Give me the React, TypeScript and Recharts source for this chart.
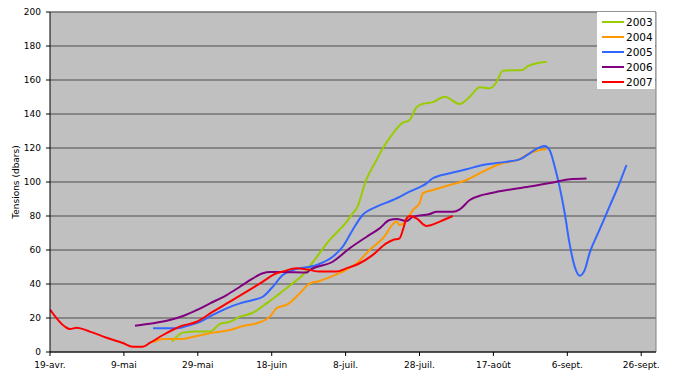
import * as React from 'react';
import {
  LineChart,
  Line,
  XAxis,
  YAxis,
  CartesianGrid,
  Legend,
  ReferenceLine
} from 'recharts';

// days counted from 19-avr.
const xTicks = [0, 20, 40, 60, 80, 100, 120, 140, 160];
const xLabels = ['19-avr.', '9-mai', '29-mai', '18-juin', '8-juil.', '28-juil.', '17-août', '6-sept.', '26-sept.'];
const yTicks = [0, 20, 40, 60, 80, 100, 120, 140, 160, 180, 200];

const days2003 = [33, 36, 39.7, 43.3, 46, 48.7, 51.4, 54.9, 58.6, 62.2, 65.7, 68.4, 72.2, 75.7, 80.3, 81.9, 83, 85.7, 87.9, 90, 92.8, 95.2, 97.3, 99.2, 100.9, 103.6, 106.8, 110.9, 113.6, 116.3, 119, 120.9, 122.5, 127.9, 129.3, 134.4];
const tension2003 = [6.1, 11.4, 12, 12, 16.5, 17.8, 20.8, 23.1, 28.6, 34.5, 40.4, 45.3, 56, 65.9, 76.7, 81.6, 84.5, 102, 111, 119.5, 128.6, 134.5, 136.5, 144, 146, 147, 150.2, 145.9, 150.2, 155.7, 155.1, 159, 165.5, 165.9, 168.2, 170.8];

const days2004 = [27.9, 30.6, 35.2, 39.7, 44.1, 48.7, 52.2, 55.9, 59.5, 61.3, 64.4, 67.6, 70.3, 73, 76.5, 79.2, 83, 86.5, 90.1, 93.8, 94.6, 96.5, 98.2, 100, 100.9, 103.6, 108.2, 112.7, 117.1, 121.7, 127.1, 129.8, 134.4];
const tension2004 = [5.7, 7.6, 7.6, 9.4, 11.4, 12.9, 15.3, 16.9, 20.8, 25.7, 28.2, 34.5, 40.4, 41.8, 44.7, 47.3, 52.2, 60, 66.9, 76.7, 74.7, 77.6, 83.5, 87.5, 93.3, 95.3, 98.2, 101.2, 106.1, 110.6, 113.5, 116.9, 119.4];

const days2005 = [27.9, 34.3, 37.9, 40.6, 44.1, 47.8, 51.4, 54.9, 57.6, 60.3, 63, 65.7, 72.2, 76.5, 79.2, 81.9, 84.6, 88.4, 92.8, 97.3, 101.9, 103.6, 108.2, 112.7, 117.1, 121.7, 127.1, 129.8, 132.5, 133.9, 135.2, 136.6, 137.9, 139.3, 140.6, 142, 143.3, 144.7, 146, 148.7, 151.4, 154.1, 156];
const tension2005 = [13.9, 13.9, 15.9, 17.8, 21.8, 25.7, 28.6, 30.6, 32.5, 38.4, 45.3, 48.2, 51.2, 56, 61.9, 71.8, 80.6, 85.5, 89.4, 94.3, 99.2, 102.2, 105.1, 107.5, 110, 111.4, 113.3, 116.9, 120.4, 121.2, 118.8, 109, 97.3, 81.6, 63.9, 50.2, 44.9, 48.2, 58, 71.8, 85.5, 99.2, 110];

const days2006 = [23, 27.9, 32.4, 36, 39.7, 43.3, 47.8, 51.4, 54.9, 57.6, 59.5, 63, 69.5, 70.3, 76.5, 81.1, 85.7, 89.2, 91.9, 93.8, 96.5, 98.2, 102.8, 104.6, 109, 110.9, 113.6, 117.1, 121.7, 129.8, 137.1, 140.6, 145.2];
const tension2006 = [15.5, 16.9, 18.8, 21.2, 24.7, 28.6, 33.5, 38.4, 43.3, 46.3, 47, 47, 46.7, 48.2, 53.1, 61, 67.8, 72.7, 77.6, 78.2, 77, 79.6, 81.2, 82.5, 82.5, 83.9, 89.4, 92.4, 94.5, 97.3, 100.2, 101.6, 102];

const days2007 = [0, 4, 5.4, 7.2, 10.8, 15.3, 19.7, 22.4, 25.1, 27, 30.6, 35.2, 39.7, 44.1, 48.7, 53.2, 57.6, 61.3, 63, 66.7, 69.4, 73, 77.5, 80.2, 83.8, 87.3, 91, 92.8, 94.6, 95.5, 96.5, 97.3, 99.2, 101.9, 103.2, 105.5, 109];
const tension2007 = [25, 15, 13.5, 14.3, 12, 8.4, 5.3, 3.1, 3.1, 5.3, 10, 15, 17.8, 23.7, 29.6, 35.5, 41.4, 46.3, 47.3, 49.2, 48.6, 47.3, 47.3, 49.2, 52.2, 57, 63.9, 65.9, 66.9, 71.8, 78.6, 80, 78.6, 74.1, 74.7, 76.7, 80];

const series = [
  { name: '2003', color: '#99CC00', days: days2003, values: tension2003 },
  { name: '2004', color: '#FF9900', days: days2004, values: tension2004 },
  { name: '2005', color: '#3366FF', days: days2005, values: tension2005 },
  { name: '2006', color: '#800080', days: days2006, values: tension2006 },
  { name: '2007', color: '#FF0000', days: days2007, values: tension2007 }
];

const FONT = '"DejaVu Sans", Tahoma, sans-serif';

function LegendBox({ payload }: any) {
  return (
    <div
      style={{
        background: '#fff',
        width: 58,
        height: 77,
        boxSizing: 'border-box',
        paddingTop: 2,
        paddingLeft: 5,
        fontFamily: FONT,
        fontSize: 10.5,
        color: '#000'
      }}
    >
      {(payload || []).map((p: any) => (
        <div key={p.value} style={{ display: 'flex', alignItems: 'center', height: 15 }}>
          <span style={{ display: 'inline-block', width: 22, height: 2, background: p.color, marginRight: 2 }} />
          <span>{p.value}</span>
        </div>
      ))}
    </div>
  );
}

export default function App() {
  const lines = series.map(s => ({
    ...s,
    data: s.days.map((d, i) => ({ day: d, value: s.values[i] }))
  }));

  return (
    <div style={{ position: 'absolute', left: 0, top: 0, width: 680, height: 380, background: '#fff' }}>
      <LineChart
        width={680}
        height={380}
        margin={{ top: 12, right: 24, left: 0, bottom: 0 }}
      >
        <CartesianGrid
          horizontal
          vertical={false}
          fill="#C0C0C0"
          stroke="#4d4d4d"
          strokeWidth={1}
        />
        <XAxis
          type="number"
          dataKey="day"
          domain={[0, 164]}
          ticks={xTicks}
          tickFormatter={(v: number) => xLabels[xTicks.indexOf(v)] ?? ''}
          allowDataOverflow
          height={28}
          tickSize={4}
          tickMargin={6}
          stroke="#000"
          tick={{ fontSize: 9, fill: '#000', fontFamily: FONT }}
        />
        <YAxis
          type="number"
          domain={[0, 200]}
          ticks={yTicks}
          width={50}
          tickSize={4}
          tickMargin={5}
          stroke="#000"
          tick={{ fontSize: 9, fill: '#000', fontFamily: FONT }}
          label={{
            value: 'Tensions (dbars)',
            angle: -90,
            position: 'insideLeft',
            offset: 16,
            style: { textAnchor: 'middle', fontSize: 9, fill: '#000', fontFamily: FONT }
          }}
        />
        <ReferenceLine y={200} stroke="#808080" />
        <ReferenceLine x={164} stroke="#808080" />
        {lines.map(s => (
          <Line
            key={s.name}
            data={s.data}
            dataKey="value"
            name={s.name}
            type="monotone"
            stroke={s.color}
            strokeWidth={2}
            dot={false}
            activeDot={false}
            isAnimationActive={false}
          />
        ))}
        <Legend
          layout="vertical"
          align="center"
          verticalAlign="middle"
          content={<LegendBox />}
          wrapperStyle={{ left: 597, top: 12, width: 58, height: 77 }}
        />
      </LineChart>
    </div>
  );
}
